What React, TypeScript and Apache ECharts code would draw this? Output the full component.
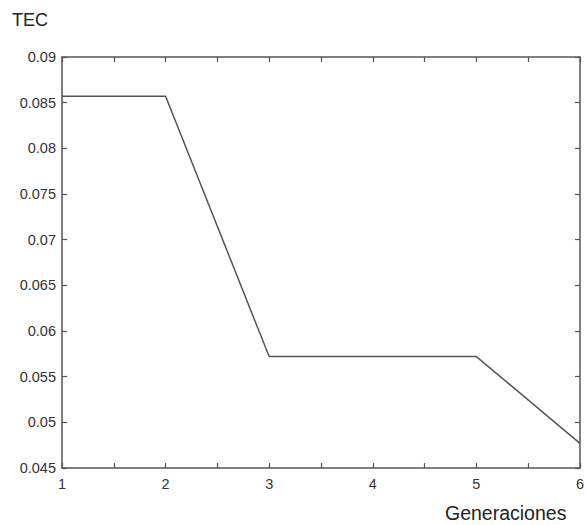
import React, { useEffect, useRef } from "react";
import * as echarts from "echarts";

const generations = [1, 2, 3, 5, 6];
const tecValues = [0.0857, 0.0857, 0.0572, 0.0572, 0.0477];
const yTicks = [0.045, 0.09];
const xRange = [1, 6];

export default function App() {
  const ref = useRef<HTMLDivElement>(null);
  useEffect(() => {
    if (!ref.current) return;
    const chart = echarts.init(ref.current, undefined, { renderer: "svg" });
    const axisLine = { show: true, lineStyle: { color: "#555", width: 1.5 } };
    const tick = { show: true, inside: true, length: 5, lineStyle: { color: "#555", width: 1.2 } };
    const font = { fontFamily: "Liberation Sans, Arial, sans-serif", fontSize: 14.5, color: "#333" };
    chart.setOption({
      animation: false,
      grid: { left: 62, top: 57, right: 2, bottom: 57, containLabel: false },
      xAxis: [
        {
          type: "value",
          min: xRange[0],
          max: xRange[1],
          interval: 0.5,
          axisLine,
          axisTick: tick,
          splitLine: { show: false },
          axisLabel: {
            ...font,
            margin: 8,
            formatter: (v: number) => (Number.isInteger(v) ? String(v) : ""),
          },
        },
        {
          type: "value",
          position: "top",
          min: xRange[0],
          max: xRange[1],
          interval: 0.5,
          axisLine,
          axisTick: tick,
          splitLine: { show: false },
          axisLabel: { show: false },
        },
      ],
      yAxis: [
        {
          type: "value",
          min: yTicks[0],
          max: yTicks[1],
          interval: 0.005,
          axisLine,
          axisTick: tick,
          splitLine: { show: false },
          axisLabel: {
            ...font,
            margin: 6,
            formatter: (v: number) => String(parseFloat(v.toFixed(3))),
          },
        },
        {
          type: "value",
          position: "right",
          min: yTicks[0],
          max: yTicks[1],
          interval: 0.005,
          axisLine,
          axisTick: tick,
          splitLine: { show: false },
          axisLabel: { show: false },
        },
      ],
      series: [
        {
          type: "line",
          data: generations.map((g, i) => [g, tecValues[i]]),
          showSymbol: false,
          symbol: "none",
          lineStyle: { color: "#555", width: 1.5 },
        },
      ],
      graphic: [
        {
          type: "text",
          left: 12,
          top: 11,
          style: { text: "TEC", fontSize: 18, fill: "#222", fontFamily: "Liberation Sans, Arial, sans-serif" },
        },
        {
          type: "text",
          left: 445,
          top: 503,
          style: { text: "Generaciones", fontSize: 19.5, fill: "#222", fontFamily: "Liberation Sans, Arial, sans-serif" },
        },
      ],
    });
    return () => chart.dispose();
  }, []);
  return (
    <div
      ref={ref}
      style={{ position: "fixed", left: 0, top: 0, width: 587, height: 525, background: "#fff" }}
    />
  );
}
